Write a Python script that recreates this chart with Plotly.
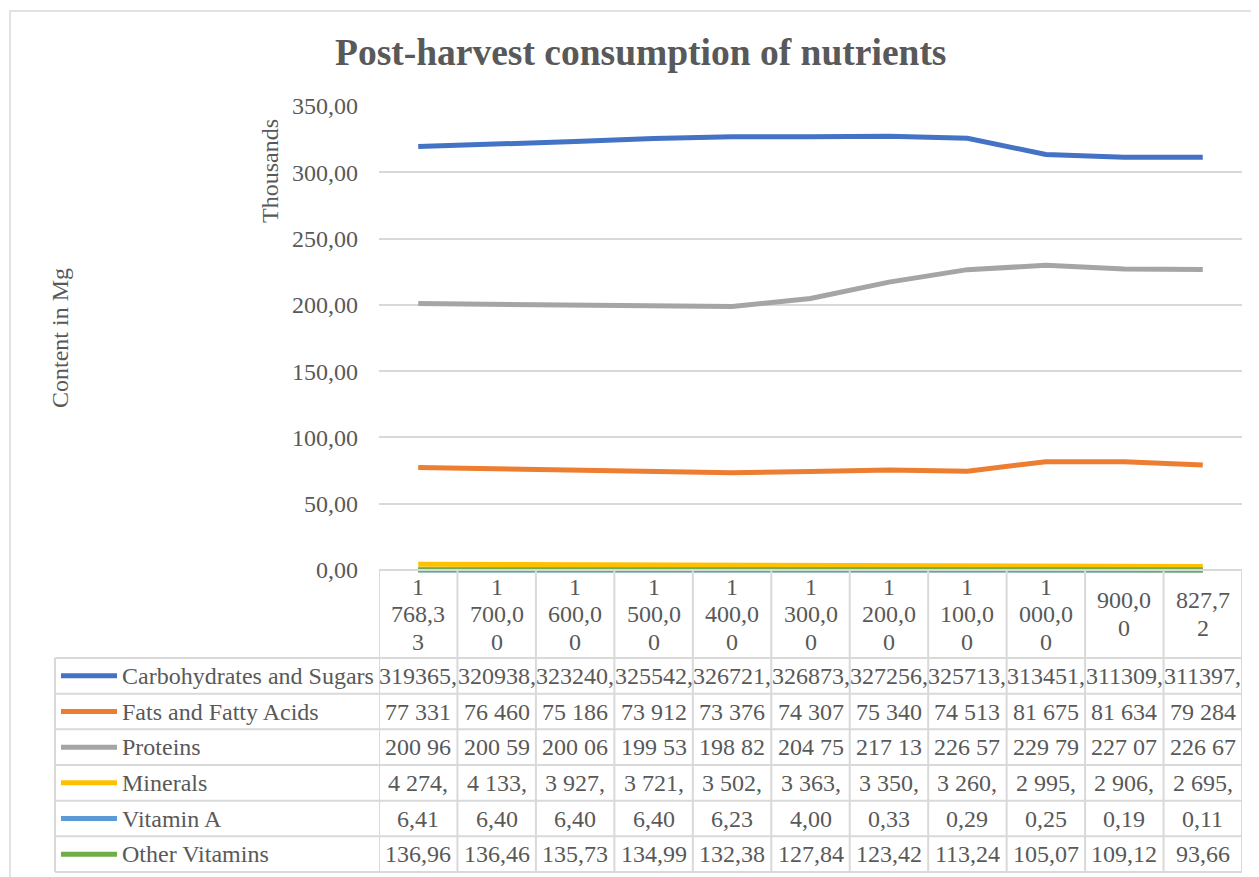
import plotly.graph_objects as go

# browser page has an 8px body margin; the figure is sized to fill the rest of the window
PAGE_W, PAGE_H = 1259, 877
OFF = 8
W, H = PAGE_W - OFF, PAGE_H - OFF

# ---------------- data ----------------
categories = ["1 768,33", "1 700,00", "1 600,00", "1 500,00", "1 400,00", "1 300,00",
              "1 200,00", "1 100,00", "1 000,00", "900,00", "827,72"]
category_header_lines = [["1", "768,3", "3"], ["1", "700,0", "0"], ["1", "600,0", "0"],
                         ["1", "500,0", "0"], ["1", "400,0", "0"], ["1", "300,0", "0"],
                         ["1", "200,0", "0"], ["1", "100,0", "0"], ["1", "000,0", "0"],
                         ["900,0", "0"], ["827,7", "2"]]

carbohydrates = [319365, 320938, 323240, 325542, 326721, 326873, 327256, 325713, 313451, 311309, 311397]
fats = [77331, 76460, 75186, 73912, 73376, 74307, 75340, 74513, 81675, 81634, 79284]
proteins = [200960, 200590, 200060, 199530, 198820, 204750, 217130, 226570, 229790, 227070, 226670]
minerals = [4274, 4133, 3927, 3721, 3502, 3363, 3350, 3260, 2995, 2906, 2695]
vitamin_a = [6.41, 6.40, 6.40, 6.40, 6.23, 4.00, 0.33, 0.29, 0.25, 0.19, 0.11]
other_vitamins = [136.96, 136.46, 135.73, 134.99, 132.38, 127.84, 123.42, 113.24, 105.07, 109.12, 93.66]

carbohydrates_text = ["319365,", "320938,", "323240,", "325542,", "326721,", "326873,",
                      "327256,", "325713,", "313451,", "311309,", "311397,"]
fats_text = ["77 331", "76 460", "75 186", "73 912", "73 376", "74 307", "75 340", "74 513",
             "81 675", "81 634", "79 284"]
proteins_text = ["200 96", "200 59", "200 06", "199 53", "198 82", "204 75", "217 13", "226 57",
                 "229 79", "227 07", "226 67"]
minerals_text = ["4 274,", "4 133,", "3 927,", "3 721,", "3 502,", "3 363,", "3 350,", "3 260,",
                 "2 995,", "2 906,", "2 695,"]
vitamin_a_text = ["6,41", "6,40", "6,40", "6,40", "6,23", "4,00", "0,33", "0,29", "0,25", "0,19", "0,11"]
other_vitamins_text = ["136,96", "136,46", "135,73", "134,99", "132,38", "127,84", "123,42",
                       "113,24", "105,07", "109,12", "93,66"]

series_names = ["Carbohydrates and Sugars", "Fats and Fatty Acids", "Proteins", "Minerals",
                "Vitamin A", "Other Vitamins"]
series_values = [carbohydrates, fats, proteins, minerals, vitamin_a, other_vitamins]
series_texts = [carbohydrates_text, fats_text, proteins_text, minerals_text, vitamin_a_text,
                other_vitamins_text]
series_colors = ["#4472C4", "#ED7D31", "#A5A5A5", "#FFC000", "#5B9BD5", "#70AD47"]

y_ticks = [0, 50, 100, 150, 200, 250, 300, 350]
chart_title = "Post-harvest consumption of nutrients"

# ---------------- layout geometry (page pixels) ----------------
FONT = "Liberation Serif"
TXT = "#595959"
GRID = "#D9D9D9"

plot_left, plot_right = 379, 1242
y_top_px, y_zero_px = 106, 570
y_max = 350
y_min = -5
px_per_unit = (y_zero_px - y_top_px) / y_max
y_bottom_px = y_zero_px - y_min * px_per_unit

header_top, header_bottom = 570, 658
table_bottom = 872
n_rows = len(series_names)
row_h = (table_bottom - header_bottom) / n_rows
label_left = 55
key_x0, key_x1 = 61, 117
label_text_x = 120
header_line_gap = 27.5


def fx(px):
    return (px - OFF) / W


def fy(py):
    return 1 - (py - OFF) / H


fig = go.Figure()
for name, vals, col in zip(series_names, series_values, series_colors):
    fig.add_trace(go.Scatter(
        x=categories, y=[v / 1000 for v in vals], name=name, mode="lines",
        line=dict(color=col, width=5), showlegend=False,
    ))

shapes = []
annotations = []

# chart border
shapes.append(dict(type="rect", xref="paper", yref="paper", x0=fx(10), x1=fx(1275),
                   y0=fy(895), y1=fy(11), line=dict(color=GRID, width=1.5), layer="below"))

n_cat = len(categories)
# vertical column lines of the data table
for i in range(n_cat + 1):
    shapes.append(dict(type="line", xref="x", yref="paper", x0=i - 0.5, x1=i - 0.5,
                       y0=fy(header_top), y1=fy(table_bottom),
                       line=dict(color=GRID, width=2)))
# label column left border
shapes.append(dict(type="line", xref="paper", yref="paper", x0=fx(label_left), x1=fx(label_left),
                   y0=fy(header_bottom), y1=fy(table_bottom), line=dict(color=GRID, width=2)))
# header top border
shapes.append(dict(type="line", xref="paper", yref="paper", x0=fx(plot_left), x1=fx(plot_right),
                   y0=fy(header_top), y1=fy(header_top), line=dict(color=GRID, width=2)))
# horizontal row lines
for r in range(n_rows + 1):
    yy = header_bottom + r * row_h
    shapes.append(dict(type="line", xref="paper", yref="paper", x0=fx(label_left), x1=fx(plot_right),
                       y0=fy(yy), y1=fy(yy), line=dict(color=GRID, width=2)))

# header (category) labels
header_center = (header_top + header_bottom) / 2
for i, lines in enumerate(category_header_lines):
    n = len(lines)
    for k, t in enumerate(lines):
        yy = header_center + (k - (n - 1) / 2) * header_line_gap
        annotations.append(dict(x=categories[i], xref="x", y=fy(yy), yref="paper", text=t,
                                showarrow=False, xanchor="center", yanchor="middle",
                                font=dict(family=FONT, size=24, color=TXT)))

# table rows
for r, (name, texts, col) in enumerate(zip(series_names, series_texts, series_colors)):
    yc = header_bottom + (r + 0.5) * row_h
    shapes.append(dict(type="line", xref="paper", yref="paper", x0=fx(key_x0), x1=fx(key_x1),
                       y0=fy(yc), y1=fy(yc), line=dict(color=col, width=5)))
    annotations.append(dict(x=fx(label_text_x), xref="paper", y=fy(yc), yref="paper", text=name,
                            showarrow=False, xanchor="left", yanchor="middle",
                            font=dict(family=FONT, size=24, color=TXT)))
    for i, t in enumerate(texts):
        annotations.append(dict(x=categories[i], xref="x", y=fy(yc), yref="paper", text=t,
                                showarrow=False, xanchor="center", yanchor="middle",
                                font=dict(family=FONT, size=24, color=TXT)))

# chart title
annotations.append(dict(x=fx(640), y=fy(53), xref="paper", yref="paper",
                        text="<b>" + chart_title + "</b>", showarrow=False,
                        xanchor="center", yanchor="middle",
                        font=dict(family=FONT, size=37.5, color=TXT)))
# axis titles
annotations.append(dict(x=fx(60), y=fy(338), xref="paper", yref="paper", text="Content in Mg",
                        textangle=-90, showarrow=False, xanchor="center", yanchor="middle",
                        font=dict(family=FONT, size=24, color=TXT)))
annotations.append(dict(x=fx(270), y=fy(171), xref="paper", yref="paper", text="Thousands",
                        textangle=-90, showarrow=False, xanchor="center", yanchor="middle",
                        font=dict(family=FONT, size=24, color=TXT)))

fig.update_layout(
    width=W, height=H,
    margin=dict(l=0, r=0, t=0, b=0, pad=0, autoexpand=False),
    paper_bgcolor="white", plot_bgcolor="white",
    separators=", ",
    xaxis=dict(type="category", categoryorder="array", categoryarray=categories,
               range=[-0.5, n_cat - 0.5], domain=[fx(plot_left), fx(plot_right)],
               showticklabels=False, showgrid=False, zeroline=False, showline=False, ticks="",
               automargin=False),
    yaxis=dict(range=[y_min, y_max], domain=[fy(y_bottom_px), fy(y_top_px)],
               tickvals=y_ticks, tickformat=".2f", showgrid=True, gridcolor=GRID, gridwidth=1.5,
               zeroline=False, showline=False, ticks="", ticklabelstandoff=20, automargin=False,
               tickfont=dict(family=FONT, size=24, color=TXT)),
    shapes=shapes,
    annotations=annotations,
)

fig.write_html("out.html")
